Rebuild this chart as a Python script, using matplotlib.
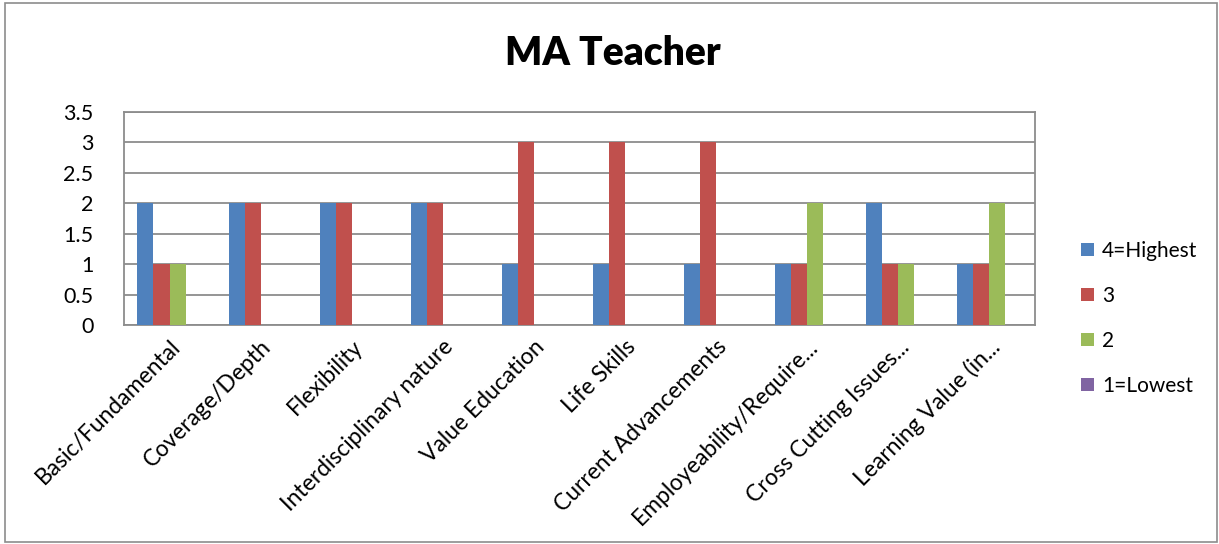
import matplotlib.pyplot as plt
import numpy as np
from matplotlib.patches import Rectangle

categories = ["Basic/Fundamental", "Coverage/Depth", "Flexibility", "Interdisciplinary nature",
              "Value Education", "Life Skills", "Current Advancements", "Employeability/Require...",
              "Cross Cutting Issues...", "Learning Value (in..."]
series_names = ["4=Highest", "3", "2", "1=Lowest"]
highest = [2, 2, 2, 2, 1, 1, 1, 1, 2, 1]
three = [1, 2, 2, 2, 3, 3, 3, 1, 1, 1]
two = [1, 0, 0, 0, 0, 0, 0, 2, 1, 2]
lowest = [0, 0, 0, 0, 0, 0, 0, 0, 0, 0]
colors = ["#4F81BD", "#C0504D", "#9BBB59", "#8064A2"]

plt.rcParams['font.family'] = ['Lato', 'DejaVu Sans']

fig = plt.figure(figsize=(12.19, 5.44), dpi=100)
ax = fig.add_axes([0.1017, 0.4026, 0.7473, 0.3915])

x = np.arange(len(categories))
w = 0.176
for i, (name, vals) in enumerate(zip(series_names, [highest, three, two, lowest])):
    ax.bar(x + (i - 1.5) * w, vals, w, color=colors[i], label=name, zorder=3)

ax.set_xlim(-0.5, len(categories) - 0.5)
ax.set_ylim(0, 3.5)
ax.set_yticks(np.arange(0, 3.51, 0.5))
ax.set_yticklabels(["0", "0.5", "1", "1.5", "2", "2.5", "3", "3.5"], fontsize=15.5)
ax.yaxis.grid(True, color="#8c8c8c", linewidth=1.3, zorder=0)
ax.set_xticks(x)
ax.set_xticklabels(categories, rotation=45, ha="right", rotation_mode="anchor", fontsize=16.5)
ax.tick_params(axis="y", length=0, pad=22)
ax.tick_params(axis="x", length=0, pad=8)
for s in ax.spines.values():
    s.set_color("#8c8c8c")
    s.set_linewidth(1.3)

fig.suptitle("MA Teacher", fontsize=28, fontweight="heavy", x=0.503, y=0.935)
ax.legend(loc="center left", bbox_to_anchor=(1.03, 0.03), frameon=False, fontsize=15,
          handlelength=0.6, handleheight=0.6, labelspacing=1.2, handletextpad=0.4)

fig.add_artist(Rectangle((0.004, 0.004), 0.994, 0.99, transform=fig.transFigure,
                         fill=False, edgecolor="#8c8c8c", linewidth=1.2))

fig.savefig("out.png", dpi=100)
